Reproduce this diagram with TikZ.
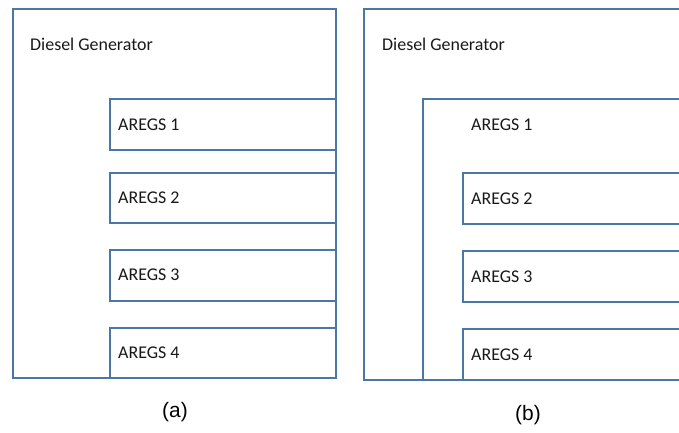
\documentclass[tikz,border=0pt]{standalone}
\usepackage{fontspec}
\setmainfont{Carlito}
\newfontfamily\labelfont{Liberation Sans}
\definecolor{edgeblue}{RGB}{74,118,168}
\begin{document}
\begin{tikzpicture}[x=1bp,y=-1bp,
  frame/.style={draw=edgeblue,line width=2.3bp,fill=white},
  txt/.style={anchor=west,inner sep=0pt,font=\fontsize{18}{21}\selectfont,text=black!90},
  captext/.style={inner sep=0pt,font=\labelfont\fontsize{21}{24}\selectfont}]
\useasboundingbox (0,0) rectangle (679,432);
\clip (0,0) rectangle (679,432);
% panel (a)
\draw[frame] (13,9) rectangle (336,378);
\draw[frame] (110,99) rectangle (336,150);
\draw[frame] (110,173) rectangle (336,223);
\draw[frame] (110,250) rectangle (336,301);
\draw[frame] (110,328) rectangle (336,378);
\node[txt] (dga) at (30,44) {Diesel Generator};
\node[txt] (a1) at (118,125) {AREGS 1};
\node[txt] (a2) at (118,198) {AREGS 2};
\node[txt] (a3) at (118,275) {AREGS 3};
\node[txt] (a4) at (118,353) {AREGS 4};
\node[captext] (capa) at (175,412) {(a)};
% panel (b)
\draw[frame] (364,9) rectangle (700,380);
\draw[frame] (423,99) rectangle (700,380);
\draw[frame] (463,173) rectangle (700,224);
\draw[frame] (463,251) rectangle (700,302);
\draw[frame] (463,329) rectangle (700,380);
\node[txt] (dgb) at (382,44) {Diesel Generator};
\node[txt] (b1) at (471,125) {AREGS 1};
\node[txt] (b2) at (471,199) {AREGS 2};
\node[txt] (b3) at (471,277) {AREGS 3};
\node[txt] (b4) at (471,355) {AREGS 4};
\node[captext] (capb) at (528,415) {(b)};
\end{tikzpicture}
\end{document}
